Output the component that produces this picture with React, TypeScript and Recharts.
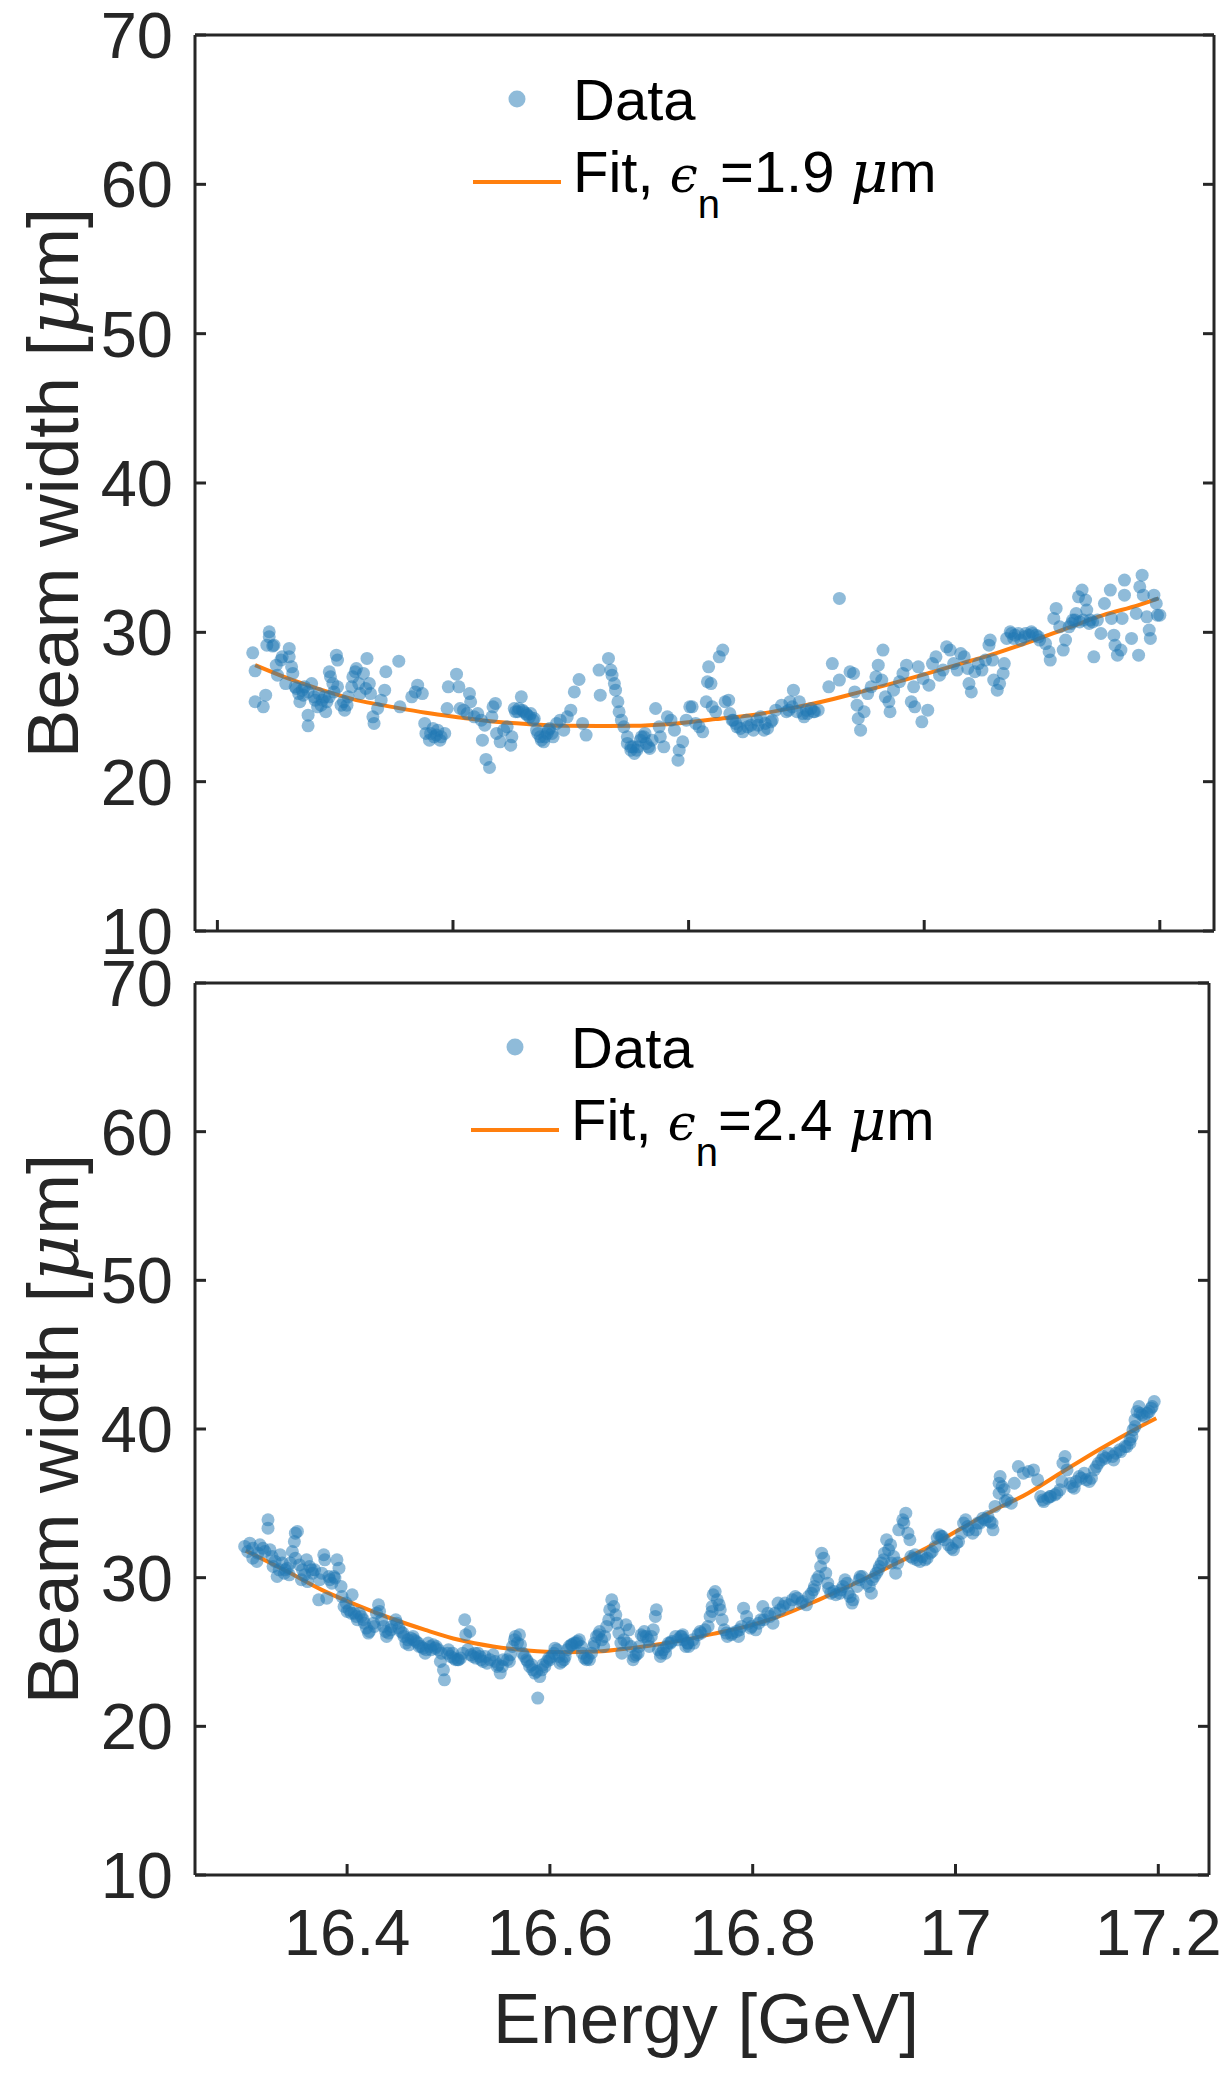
import React from 'react';
import { ComposedChart, Scatter, Line, XAxis, YAxis, Legend, Label } from 'recharts';

const FONT = '"Liberation Sans", Arial, Helvetica, sans-serif';
const AXIS = '#262626';
const BLUE = '#1f77b4';
const ORANGE = '#ff7f0e';

const X_TICKS = [16.4, 16.6, 16.8, 17, 17.2];
const Y_TICKS = [10, 20, 30, 40, 50, 60, 70];
const TOP_X_DOMAIN = [16.381, 17.246];
const BOTTOM_X_DOMAIN = [16.25, 17.25];
const Y_DOMAIN = [10, 70];

// top panel: [energy GeV, beam width um]
const topPoints: [number, number][] = [
  [16.430, 28.63], [16.432, 27.42], [16.432, 25.35], [16.439, 25.01], [16.441, 25.79], [16.444, 30.04],
  [16.444, 29.70], [16.442, 29.14], [16.447, 29.08], [16.448, 29.14], [16.450, 27.80], [16.451, 27.13],
  [16.454, 28.14], [16.455, 28.36], [16.458, 26.57], [16.461, 28.92], [16.461, 28.36], [16.463, 27.69],
  [16.464, 27.25], [16.466, 26.35], [16.469, 25.90], [16.470, 25.35], [16.472, 26.13], [16.474, 26.35],
  [16.477, 24.45], [16.477, 23.74], [16.480, 26.57], [16.482, 25.68], [16.485, 25.01], [16.486, 25.90],
  [16.489, 25.46], [16.492, 24.68], [16.493, 25.35], [16.495, 27.36], [16.496, 27.02], [16.498, 26.57],
  [16.501, 28.47], [16.502, 28.14], [16.502, 26.35], [16.505, 25.12], [16.508, 24.79], [16.511, 25.68],
  [16.514, 26.35], [16.515, 27.02], [16.517, 27.36], [16.518, 27.58], [16.520, 26.57], [16.521, 25.90],
  [16.524, 27.25], [16.526, 26.24], [16.527, 28.25], [16.529, 26.57], [16.530, 25.90], [16.532, 24.34],
  [16.533, 23.90], [16.536, 24.90], [16.539, 25.46], [16.542, 26.13], [16.543, 27.36], [16.554, 28.07],
  [16.555, 25.01], [16.565, 25.68], [16.568, 26.01], [16.570, 26.46], [16.574, 25.90], [16.576, 23.90],
  [16.577, 23.23], [16.580, 22.78], [16.583, 23.56], [16.586, 23.12], [16.589, 22.78], [16.593, 23.23],
  [16.595, 24.90], [16.596, 26.35], [16.603, 27.20], [16.605, 26.35], [16.606, 24.90], [16.609, 24.79],
  [16.612, 24.56], [16.614, 25.90], [16.615, 25.35], [16.618, 24.34], [16.621, 24.56], [16.624, 24.12],
  [16.625, 22.78], [16.627, 23.78], [16.628, 21.49], [16.631, 20.95], [16.633, 24.34], [16.634, 25.01],
  [16.636, 25.24], [16.637, 23.23], [16.640, 22.67], [16.643, 23.45], [16.646, 23.67], [16.649, 22.44],
  [16.650, 23.00], [16.652, 24.90], [16.655, 24.68], [16.658, 25.68], [16.659, 24.79], [16.662, 24.56],
  [16.665, 24.34], [16.668, 24.12], [16.671, 23.45], [16.674, 23.00], [16.677, 22.67], [16.680, 23.23],
  [16.682, 23.56], [16.685, 23.00], [16.688, 23.90], [16.691, 24.12], [16.694, 23.45], [16.697, 24.34],
  [16.700, 24.79], [16.703, 26.01], [16.707, 26.84], [16.710, 23.90], [16.713, 23.12], [16.724, 27.47],
  [16.725, 25.79], [16.732, 28.25], [16.734, 27.47], [16.735, 27.13], [16.737, 26.57], [16.738, 26.13],
  [16.740, 25.35], [16.741, 24.68], [16.743, 24.12], [16.745, 23.67], [16.748, 23.00], [16.751, 22.33],
  [16.754, 21.89], [16.757, 22.33], [16.760, 23.00], [16.763, 23.23], [16.766, 22.33], [16.769, 22.78],
  [16.772, 24.90], [16.775, 23.67], [16.776, 23.00], [16.779, 22.33], [16.782, 24.34], [16.785, 24.12],
  [16.788, 23.45], [16.791, 21.44], [16.792, 22.11], [16.795, 22.67], [16.798, 24.12], [16.801, 25.01],
  [16.803, 25.01], [16.806, 23.90], [16.809, 23.67], [16.812, 23.34], [16.815, 25.35], [16.816, 26.69],
  [16.817, 27.69], [16.819, 26.57], [16.820, 25.01], [16.823, 24.68], [16.826, 28.36], [16.829, 28.81],
  [16.831, 25.35], [16.834, 25.46], [16.835, 24.56], [16.838, 24.12], [16.841, 23.67], [16.846, 23.34],
  [16.849, 24.12], [16.853, 23.78], [16.858, 24.12], [16.861, 24.34], [16.864, 23.45], [16.867, 23.56],
  [16.871, 24.12], [16.874, 24.79], [16.879, 25.12], [16.883, 24.68], [16.886, 25.35], [16.889, 26.13],
  [16.894, 25.35], [16.898, 24.34], [16.901, 24.56], [16.906, 24.68], [16.910, 24.79], [16.919, 26.35],
  [16.922, 27.91], [16.928, 32.27], [16.928, 26.80], [16.937, 27.36], [16.940, 27.25], [16.941, 26.01],
  [16.943, 25.12], [16.944, 24.23], [16.946, 23.45], [16.949, 24.68], [16.952, 25.90], [16.955, 26.35],
  [16.959, 27.02], [16.961, 27.80], [16.964, 26.80], [16.965, 28.81], [16.967, 25.68], [16.970, 25.35],
  [16.971, 24.68], [16.974, 26.13], [16.979, 26.69], [16.982, 27.25], [16.985, 27.80], [16.989, 25.35],
  [16.991, 26.35], [16.992, 25.01], [16.995, 27.69], [16.998, 24.01], [16.999, 26.91], [17.003, 24.79],
  [17.004, 26.46], [17.007, 27.91], [17.010, 28.36], [17.013, 27.13], [17.016, 27.47], [17.019, 29.03],
  [17.022, 28.81], [17.025, 27.91], [17.028, 27.47], [17.031, 28.58], [17.034, 28.36], [17.037, 27.58],
  [17.038, 26.57], [17.040, 26.01], [17.043, 27.36], [17.046, 27.91], [17.049, 27.47], [17.052, 28.14],
  [17.055, 29.14], [17.056, 29.48], [17.058, 28.14], [17.059, 26.80], [17.062, 26.13], [17.064, 26.57],
  [17.067, 27.25], [17.068, 27.91], [17.070, 29.59], [17.073, 30.04], [17.077, 29.81], [17.082, 29.48],
  [17.086, 29.92], [17.091, 30.04], [17.095, 29.81], [17.098, 29.48], [17.103, 29.25], [17.106, 28.70],
  [17.107, 28.14], [17.110, 30.93], [17.112, 31.60], [17.115, 30.37], [17.118, 28.81], [17.120, 29.48],
  [17.123, 30.37], [17.126, 30.82], [17.129, 31.26], [17.131, 32.38], [17.134, 32.83], [17.137, 32.16],
  [17.138, 31.49], [17.141, 30.82], [17.144, 28.36], [17.147, 30.82], [17.150, 29.92], [17.153, 31.93],
  [17.158, 32.83], [17.159, 30.93], [17.161, 29.81], [17.162, 29.14], [17.164, 28.47], [17.167, 28.81],
  [17.168, 30.93], [17.170, 33.50], [17.170, 32.49], [17.176, 29.59], [17.180, 31.26], [17.182, 28.47],
  [17.183, 33.05], [17.185, 33.83], [17.186, 32.49], [17.189, 31.04], [17.191, 30.15], [17.192, 29.59],
  [17.195, 32.49], [17.197, 31.93], [17.198, 31.15], [17.200, 31.15],
  [16.467, 26.24], [16.473, 25.79], [16.477, 26.01], [16.483, 25.46], [16.488, 25.12], [16.491, 25.68],
  [16.495, 25.68], [16.499, 26.01], [16.507, 25.35], [16.510, 25.12], [16.581, 23.23], [16.584, 23.00],
  [16.587, 23.45], [16.590, 23.00], [16.653, 24.68], [16.656, 24.90], [16.660, 24.68], [16.663, 24.45],
  [16.666, 24.56], [16.669, 24.23], [16.672, 23.23], [16.675, 22.78], [16.678, 23.00], [16.681, 23.45],
  [16.684, 23.23], [16.748, 22.56], [16.751, 22.11], [16.753, 22.33], [16.756, 22.11], [16.759, 22.78],
  [16.762, 23.00], [16.764, 22.56], [16.767, 22.22], [16.837, 24.12], [16.840, 23.90], [16.844, 23.56],
  [16.850, 23.67], [16.855, 23.45], [16.859, 23.78], [16.865, 23.90], [16.870, 24.01], [16.885, 24.79],
  [16.888, 25.01], [16.892, 24.68], [16.897, 24.56], [16.900, 24.79], [16.904, 24.90], [16.907, 24.68],
  [17.074, 29.92], [17.076, 29.59], [17.080, 29.92], [17.085, 29.70], [17.089, 29.81], [17.092, 29.92],
  [17.097, 29.70], [17.125, 30.59], [17.128, 30.82], [17.132, 30.70], [17.135, 30.82], [17.140, 30.59],
  [17.143, 30.70],
];

const topFitPoints: [number, number][] = [
  [16.432, 27.80], [16.460, 26.91], [16.489, 26.13], [16.518, 25.46], [16.548, 25.01], [16.577, 24.61],
  [16.606, 24.30], [16.636, 24.01], [16.665, 23.85], [16.694, 23.74], [16.724, 23.72], [16.753, 23.74],
  [16.782, 23.85], [16.823, 24.19], [16.853, 24.45], [16.883, 24.86], [16.913, 25.35], [16.943, 25.95],
  [16.973, 26.58], [17.003, 27.25], [17.032, 27.92], [17.062, 28.63], [17.092, 29.43], [17.122, 30.30],
  [17.152, 31.15], [17.182, 31.82], [17.199, 32.27],
];

// bottom panel: [energy GeV, beam width um]
const bottomPoints: [number, number][] = [
  [16.299, 32.10], [16.304, 32.32], [16.307, 31.31], [16.311, 31.09], [16.314, 32.21], [16.317, 31.98],
  [16.322, 33.89], [16.322, 33.33], [16.324, 31.87], [16.327, 30.75], [16.331, 30.08], [16.334, 31.54],
  [16.336, 30.98], [16.339, 30.53], [16.343, 30.19], [16.346, 31.76], [16.348, 32.43], [16.349, 32.99],
  [16.351, 33.11], [16.349, 31.31], [16.355, 29.86], [16.356, 30.53], [16.360, 31.20], [16.363, 30.75],
  [16.366, 30.30], [16.368, 30.53], [16.372, 28.51], [16.373, 29.86], [16.377, 31.54], [16.378, 31.20],
  [16.380, 28.62], [16.382, 30.08], [16.385, 29.63], [16.388, 29.97], [16.390, 31.20], [16.392, 30.64],
  [16.394, 29.41], [16.397, 28.06], [16.400, 27.73], [16.405, 28.85], [16.407, 27.61], [16.410, 27.17],
  [16.414, 27.39], [16.417, 26.94], [16.421, 26.27], [16.426, 26.94], [16.431, 28.17], [16.432, 27.73],
  [16.436, 26.72], [16.439, 26.05], [16.443, 26.49], [16.448, 27.17], [16.451, 26.61], [16.455, 26.27],
  [16.458, 25.60], [16.463, 25.93], [16.468, 25.71], [16.473, 25.37], [16.477, 24.92], [16.480, 25.60],
  [16.483, 25.15], [16.488, 25.37], [16.492, 24.36], [16.495, 23.80], [16.496, 23.13], [16.500, 25.15],
  [16.504, 24.92], [16.509, 24.48], [16.512, 24.59], [16.516, 27.17], [16.517, 26.16], [16.521, 26.38],
  [16.524, 24.70], [16.529, 24.92], [16.532, 24.48], [16.538, 24.25], [16.544, 24.81], [16.549, 24.14],
  [16.551, 23.58], [16.554, 24.48], [16.560, 24.36], [16.565, 25.82], [16.570, 26.16], [16.573, 24.92],
  [16.577, 24.48], [16.582, 24.14], [16.587, 23.69], [16.588, 21.90], [16.590, 23.35], [16.595, 24.03],
  [16.600, 24.48], [16.605, 25.26], [16.610, 24.25], [16.615, 24.70], [16.621, 25.48], [16.624, 25.60],
  [16.629, 25.82], [16.634, 24.59], [16.639, 24.48], [16.643, 25.37], [16.648, 26.16], [16.649, 26.38],
  [16.653, 25.37], [16.656, 26.72], [16.659, 27.84], [16.661, 28.51], [16.665, 27.50], [16.668, 26.27],
  [16.671, 24.92], [16.675, 26.83], [16.678, 26.49], [16.682, 24.48], [16.687, 24.92], [16.690, 26.16],
  [16.693, 26.38], [16.698, 25.37], [16.702, 26.49], [16.704, 27.39], [16.705, 27.84], [16.709, 24.70],
  [16.714, 24.92], [16.719, 25.60], [16.724, 26.05], [16.731, 26.16], [16.734, 25.37],
  [16.737, 25.37], [16.742, 25.60], [16.748, 26.38], [16.753, 26.49], [16.756, 26.72], [16.758, 27.39],
  [16.760, 28.06], [16.761, 28.85], [16.763, 29.07], [16.765, 28.51], [16.768, 27.84], [16.770, 27.17],
  [16.772, 26.49], [16.775, 26.05], [16.780, 26.27], [16.786, 26.05], [16.789, 26.72], [16.791, 27.95],
  [16.794, 27.39], [16.798, 26.61], [16.803, 26.49], [16.808, 27.17], [16.810, 28.06], [16.815, 27.61],
  [16.820, 26.94], [16.825, 28.29], [16.830, 28.06], [16.836, 28.17], [16.842, 28.73], [16.848, 28.29],
  [16.853, 28.17], [16.858, 28.96], [16.861, 29.41], [16.865, 30.08], [16.867, 30.75], [16.868, 31.65],
  [16.870, 31.31], [16.872, 30.30], [16.874, 29.63], [16.877, 28.96], [16.882, 28.85], [16.887, 29.18],
  [16.891, 29.86], [16.894, 28.96], [16.898, 28.29], [16.903, 29.41], [16.906, 30.08], [16.912, 29.63],
  [16.917, 28.96], [16.920, 30.08], [16.924, 30.53], [16.927, 30.98], [16.930, 31.65], [16.932, 32.55],
  [16.934, 31.87], [16.937, 30.98], [16.941, 30.30], [16.944, 33.22], [16.948, 33.89], [16.951, 34.34],
  [16.955, 32.55], [16.956, 31.42], [16.960, 31.54], [16.965, 31.09], [16.970, 31.20], [16.975, 31.65],
  [16.980, 32.10], [16.984, 32.88], [16.987, 32.77], [16.993, 32.21], [16.998, 31.87], [17.003, 32.43],
  [17.008, 33.67], [17.012, 33.44], [17.017, 32.99], [17.022, 33.67], [17.027, 34.00], [17.032, 34.11],
  [17.036, 33.67], [17.037, 33.22], [17.039, 34.79], [17.043, 35.68], [17.046, 36.13], [17.049, 35.12],
  [17.043, 36.35], [17.044, 36.80], [17.048, 35.91], [17.051, 35.23], [17.055, 35.01], [17.058, 36.35],
  [17.062, 37.47], [17.067, 37.03], [17.072, 37.14], [17.077, 37.25], [17.081, 36.58], [17.084, 35.46],
  [17.087, 35.12], [17.093, 35.46], [17.098, 35.57], [17.103, 35.91], [17.106, 37.70], [17.108, 38.15],
  [17.110, 37.25], [17.113, 36.35], [17.117, 36.02], [17.122, 36.80], [17.127, 37.03], [17.132, 36.47],
  [17.137, 37.25], [17.141, 37.70], [17.146, 38.15], [17.151, 38.37], [17.156, 37.92], [17.162, 38.60],
  [17.167, 38.82], [17.172, 39.27], [17.175, 39.94], [17.177, 40.61], [17.181, 41.51], [17.182, 41.06],
  [17.186, 40.84], [17.189, 41.06], [17.193, 41.40], [17.196, 41.85],
  [16.302, 31.76], [16.307, 31.98], [16.312, 31.65], [16.319, 31.76], [16.326, 31.42], [16.329, 31.09],
  [16.333, 30.53], [16.338, 30.30], [16.341, 30.64], [16.344, 30.98], [16.353, 30.86], [16.358, 30.19],
  [16.361, 29.74], [16.365, 30.53], [16.375, 30.30], [16.383, 29.86], [16.387, 30.08], [16.395, 28.73],
  [16.399, 28.29], [16.402, 27.84], [16.404, 27.61], [16.409, 27.39], [16.412, 27.61], [16.416, 27.17],
  [16.419, 26.61], [16.422, 26.38], [16.427, 26.72], [16.429, 27.61], [16.434, 27.17], [16.438, 26.38],
  [16.441, 26.27], [16.444, 26.72], [16.449, 26.94], [16.453, 26.38], [16.456, 26.05], [16.460, 25.82],
  [16.461, 25.48], [16.465, 26.05], [16.466, 25.82], [16.470, 25.60], [16.471, 25.37], [16.475, 25.26],
  [16.478, 25.15], [16.482, 25.37], [16.485, 25.48], [16.487, 25.26], [16.490, 25.15], [16.493, 24.92],
  [16.499, 24.92], [16.502, 24.70], [16.505, 24.59], [16.507, 24.48], [16.510, 24.48], [16.514, 24.92],
  [16.519, 25.15], [16.522, 24.81], [16.526, 24.92], [16.527, 24.59], [16.531, 24.70], [16.534, 24.36],
  [16.536, 24.70], [16.541, 24.48], [16.546, 24.36], [16.548, 24.03], [16.553, 24.03], [16.558, 24.48],
  [16.561, 24.81], [16.563, 25.37], [16.566, 26.05], [16.568, 25.60], [16.571, 25.48], [16.575, 24.70],
  [16.578, 24.36], [16.580, 24.03], [16.583, 23.80], [16.585, 23.58], [16.592, 23.80], [16.593, 24.14],
  [16.597, 24.36], [16.599, 24.59], [16.602, 24.70], [16.604, 24.92], [16.607, 25.15], [16.609, 24.70],
  [16.612, 24.36], [16.614, 24.48], [16.617, 25.15], [16.619, 25.37], [16.622, 25.48], [16.626, 25.60],
  [16.627, 25.71], [16.631, 25.37], [16.632, 24.92], [16.636, 24.48], [16.637, 24.59], [16.641, 24.92],
  [16.644, 25.60], [16.646, 26.05], [16.651, 25.82], [16.654, 26.05], [16.658, 27.17], [16.663, 28.06],
  [16.666, 26.94], [16.670, 25.60], [16.673, 25.82], [16.676, 25.60], [16.680, 25.37], [16.683, 24.70],
  [16.685, 24.81], [16.688, 25.37], [16.692, 26.05], [16.695, 26.05], [16.697, 25.82], [16.700, 26.05],
  [16.707, 25.15], [16.710, 24.92], [16.712, 25.15], [16.715, 25.37], [16.717, 25.60], [16.720, 25.71],
  [16.726, 25.82], [16.729, 26.05], [16.732, 25.82], [16.736, 25.60],
  [16.730, 26.05], [16.736, 25.60], [16.741, 25.82], [16.746, 26.16], [16.749, 26.27], [16.760, 27.73],
  [16.767, 28.17], [16.774, 26.27], [16.779, 26.16], [16.784, 26.38], [16.787, 26.49], [16.796, 26.94],
  [16.799, 26.72], [16.806, 26.94], [16.811, 27.17], [16.817, 27.39], [16.822, 27.61], [16.827, 27.84],
  [16.832, 28.29], [16.839, 28.51], [16.844, 28.62], [16.849, 28.40], [16.855, 28.73], [16.860, 29.18],
  [16.863, 29.86], [16.875, 29.29], [16.880, 29.07], [16.886, 28.96], [16.889, 29.41], [16.893, 29.63],
  [16.896, 28.73], [16.899, 28.51], [16.905, 29.86], [16.908, 30.08], [16.915, 29.41], [16.918, 29.86],
  [16.922, 30.30], [16.925, 30.75], [16.929, 31.20], [16.936, 32.21], [16.939, 31.42], [16.943, 30.98],
  [16.949, 33.67], [16.953, 32.99], [16.958, 31.31], [16.962, 31.20], [16.967, 31.42], [16.972, 31.31],
  [16.977, 31.76], [16.982, 32.66], [16.986, 32.77], [16.989, 32.55], [16.996, 31.98], [17.001, 32.32],
  [17.006, 32.99], [17.010, 33.89], [17.013, 33.22], [17.020, 33.22], [17.024, 33.67], [17.029, 33.89],
  [17.034, 33.78],
  [17.086, 35.23], [17.091, 35.34], [17.094, 35.46], [17.100, 35.68], [17.105, 36.47], [17.115, 36.13],
  [17.119, 36.47], [17.124, 36.69], [17.129, 36.58], [17.134, 36.69], [17.139, 37.47], [17.144, 37.92],
  [17.148, 38.04], [17.155, 38.15], [17.158, 38.37], [17.163, 38.48], [17.169, 38.82], [17.172, 39.04],
  [17.174, 39.49], [17.177, 40.16], [17.179, 41.17], [17.184, 40.95], [17.191, 41.17], [17.194, 41.51],
];

const bottomFitPoints: [number, number][] = [
  [16.300, 31.82], [16.341, 30.41], [16.375, 29.18], [16.409, 28.17], [16.443, 27.27], [16.477, 26.49],
  [16.510, 25.82], [16.544, 25.37], [16.578, 25.10], [16.612, 24.99], [16.646, 25.03], [16.680, 25.26],
  [16.714, 25.59], [16.761, 26.22], [16.796, 26.76], [16.830, 27.50], [16.865, 28.51], [16.899, 29.56],
  [16.934, 30.71], [16.968, 31.87], [17.003, 33.21], [17.037, 34.50], [17.072, 35.70], [17.106, 37.14],
  [17.141, 38.59], [17.176, 39.94], [17.198, 40.72],
];

const toRows = (pts: [number, number][]) => pts.map(([e, v]) => ({ e, v }));

const axisLine = { stroke: AXIS, strokeWidth: 3 };
const TICK_LEN = 11;
const PLOT_LEFT = 195;

const renderDot = (p: any) => (
  <circle cx={p.cx} cy={p.cy} r={6.5} fill={BLUE} fillOpacity={0.5} stroke="none" />
);

const renderYLabel = (props: any) => {
  const vb = props.viewBox || {};
  const cy = vb.y + vb.height / 2;
  return (
    <text x={78} y={cy} transform={`rotate(-90 78 ${cy})`} textAnchor="middle" fontSize={73} fill={AXIS} fontFamily={FONT}>
      Beam width [<tspan fontStyle="italic" fontFamily="DejaVu Serif">μ</tspan>m]
    </text>
  );
};

const renderXLabel = (props: any) => {
  const vb = props.viewBox || {};
  return (
    <text x={vb.x + vb.width / 2 + 4} y={vb.y + 168} textAnchor="middle" fontSize={71} fill={AXIS} fontFamily={FONT}>
      Energy [GeV]
    </text>
  );
};

// inward ticks, MATLAB style
const leftTick = (p: any) => (
  <g>
    <line x1={PLOT_LEFT} x2={PLOT_LEFT + TICK_LEN} y1={p.y} y2={p.y} stroke={AXIS} strokeWidth={3} />
    <text x={173} y={p.y} dy="0.355em" textAnchor="end" fontSize={65} fill={AXIS} fontFamily={FONT}>
      {p.payload.value}
    </text>
  </g>
);

const makeRightTick = (right: number) => (p: any) => (
  <line x1={right} x2={right - TICK_LEN} y1={p.y} y2={p.y} stroke={AXIS} strokeWidth={3} />
);

const makeTopTick = (top: number) => (p: any) => (
  <line x1={p.x} x2={p.x} y1={top} y2={top + TICK_LEN} stroke={AXIS} strokeWidth={3} />
);

const makeBottomTick = (bottom: number, labels: boolean) => (p: any) => (
  <g>
    <line x1={p.x} x2={p.x} y1={bottom} y2={bottom - TICK_LEN} stroke={AXIS} strokeWidth={3} />
    {labels && (
      <text x={p.x} y={bottom + 80} textAnchor="middle" fontSize={65} fill={AXIS} fontFamily={FONT}>
        {p.payload.value}
      </text>
    )}
  </g>
);

function legendContent(dx: number, dy: number, emittance: string) {
  return () => (
    <svg width={1230} height={250} style={{ display: 'block' }}>
      <circle cx={517 + dx} cy={99 + dy} r={8.5} fill={BLUE} fillOpacity={0.5} />
      <text x={573 + dx} y={120 + dy} fontSize={58} fill="#000" fontFamily={FONT}>Data</text>
      <line x1={473 + dx} x2={561 + dx} y1={182 + dy} y2={182 + dy} stroke={ORANGE} strokeWidth={4} />
      <text x={573 + dx} y={192 + dy} fontSize={58} fill="#000" fontFamily={FONT}>
        Fit, <tspan fontStyle="italic" fontFamily="DejaVu Serif" fontSize={50}>ϵ</tspan>
        <tspan fontSize={40} dy={26}>n</tspan>
        <tspan dy={-26}>={emittance} </tspan>
        <tspan fontStyle="italic" fontFamily="DejaVu Serif">μ</tspan>m
      </text>
    </svg>
  );
}

const legendWrapper: React.CSSProperties = {
  position: 'absolute', left: 0, top: 0, width: 1230, height: 250, margin: 0, padding: 0, lineHeight: 0, pointerEvents: 'none',
};

function Panel({ points, fit, xDomain, showXLabels, plotTop, plotRight, height, xHeight, legend }: any) {
  const plotBottom = height - xHeight;
  return (
    <ComposedChart width={1230} height={height} margin={{ top: plotTop - 1, right: 1230 - plotRight - 1, bottom: 0, left: 0 }}>
      <XAxis xAxisId="b" type="number" dataKey="e" domain={xDomain} ticks={X_TICKS} allowDataOverflow interval={0}
        tickSize={0} height={xHeight} axisLine={axisLine} tickLine={false}
        tick={makeBottomTick(plotBottom, showXLabels)}>
        {showXLabels && <Label content={renderXLabel} />}
      </XAxis>
      <XAxis xAxisId="t" orientation="top" type="number" domain={xDomain} ticks={X_TICKS} allowDataOverflow interval={0}
        tickSize={0} height={1} axisLine={axisLine} tickLine={false} tick={makeTopTick(plotTop)} />
      <YAxis yAxisId="l" type="number" dataKey="v" domain={Y_DOMAIN} ticks={Y_TICKS} allowDataOverflow interval={0}
        width={PLOT_LEFT} tickSize={0} axisLine={axisLine} tickLine={false} tick={leftTick}>
        <Label content={renderYLabel} />
      </YAxis>
      <YAxis yAxisId="r" orientation="right" type="number" domain={Y_DOMAIN} ticks={Y_TICKS} allowDataOverflow interval={0}
        width={1} tickSize={0} axisLine={axisLine} tickLine={false} tick={makeRightTick(plotRight)} />
      <Scatter xAxisId="b" yAxisId="l" data={toRows(points)} dataKey="v" shape={renderDot} isAnimationActive={false} />
      <Line xAxisId="b" yAxisId="l" data={toRows(fit)} dataKey="v" type="monotone" dot={false} activeDot={false}
        stroke={ORANGE} strokeWidth={4} isAnimationActive={false} />
      <Legend layout="vertical" align="center" verticalAlign="middle" content={legend} wrapperStyle={legendWrapper} />
    </ComposedChart>
  );
}

export default function App() {
  return (
    <div style={{ position: 'absolute', left: 0, top: 0, width: 1230, height: 2075, background: '#fff' }}>
      <div style={{ position: 'absolute', left: 0, top: 0 }}>
        <Panel points={topPoints} fit={topFitPoints} xDomain={TOP_X_DOMAIN} showXLabels={false}
          plotTop={35} plotRight={1214} height={975} xHeight={44}
          legend={legendContent(0, 0, '1.9')} />
      </div>
      <div style={{ position: 'absolute', left: 0, top: 940 }}>
        <Panel points={bottomPoints} fit={bottomFitPoints} xDomain={BOTTOM_X_DOMAIN} showXLabels
          plotTop={43} plotRight={1209} height={1135} xHeight={200}
          legend={legendContent(-2, 8, '2.4')} />
      </div>
    </div>
  );
}
